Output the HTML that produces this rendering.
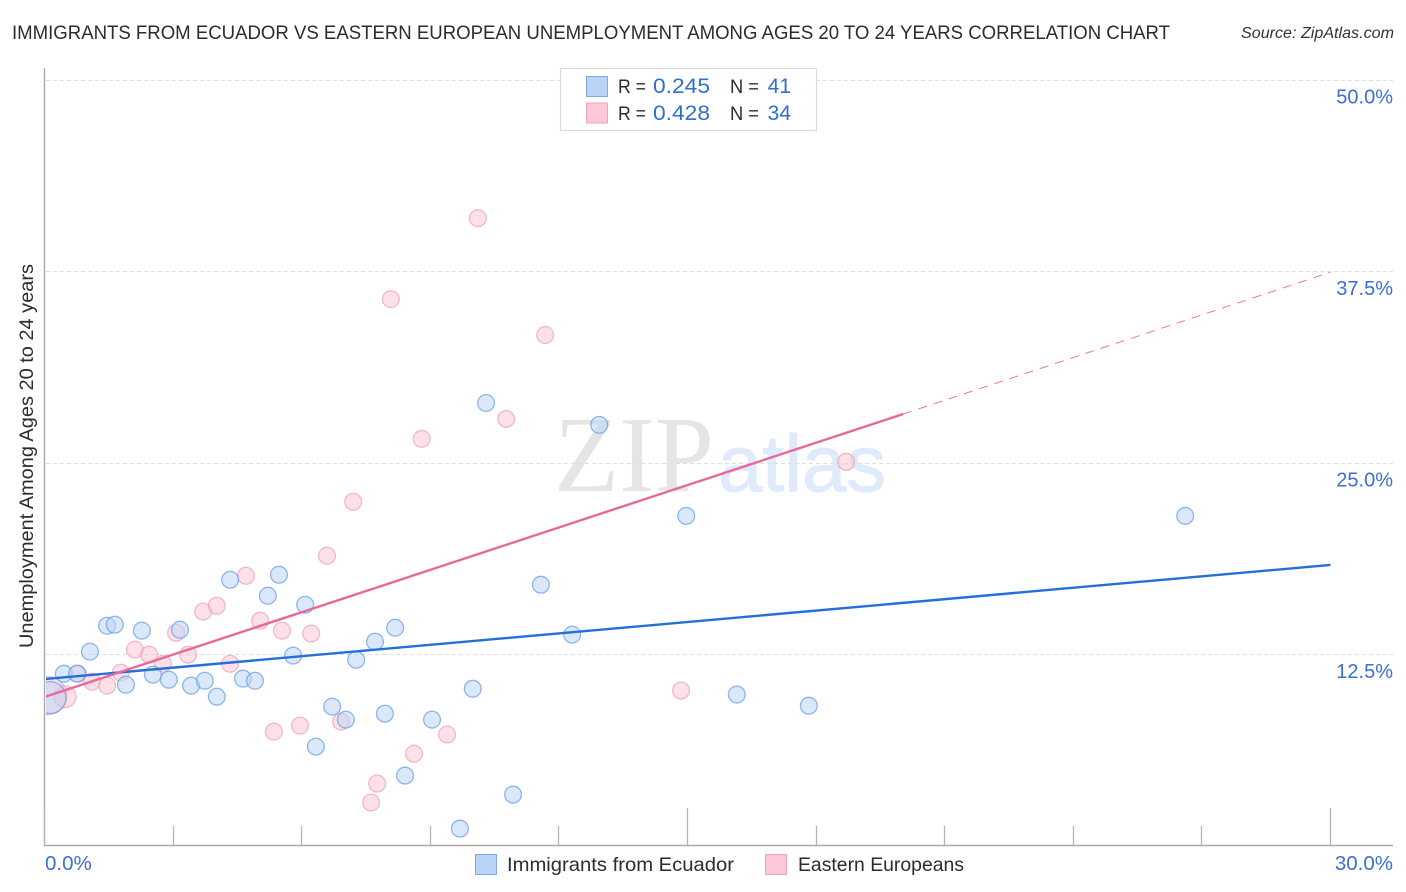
<!DOCTYPE html>
<html lang="en">
<head>
<meta charset="utf-8">
<title>Immigrants from Ecuador vs Eastern European Unemployment Chart</title>
<style>
html,body{margin:0;padding:0;background:#fff;width:1406px;height:892px;overflow:hidden}
svg{display:block}
text{font-family:"Liberation Sans",sans-serif}
</style>
</head>
<body>
<svg id="chart" xmlns="http://www.w3.org/2000/svg" width="1406" height="892" viewBox="0 0 1406 892">
  <defs><clipPath id="plot-clip"><rect x="46" y="60" width="1350" height="785"/></clipPath></defs>
  <text x="12" y="39" font-size="19.5" fill="#2b2b33" textLength="1158" lengthAdjust="spacingAndGlyphs">IMMIGRANTS FROM ECUADOR VS EASTERN EUROPEAN UNEMPLOYMENT AMONG AGES 20 TO 24 YEARS CORRELATION CHART</text>
  <text x="1394" y="38" font-size="15.5" font-style="italic" fill="#333" text-anchor="end" textLength="153" lengthAdjust="spacingAndGlyphs">Source: ZipAtlas.com</text>
  <g>
    <text x="554" y="491" font-size="108" fill="#e5e5e5" style="font-family:'Liberation Serif',serif" textLength="160" lengthAdjust="spacingAndGlyphs">ZIP</text>
    <text x="718" y="491" font-size="80" fill="#dfeafa" stroke="#dfeafa" stroke-width="1" style="font-family:'Liberation Sans',Arial,sans-serif" textLength="168" lengthAdjust="spacingAndGlyphs">atlas</text>
  </g>
  <g id="grid"></g>
  <g id="axes"></g>
  <g id="points" clip-path="url(#plot-clip)"></g>
  <g id="trends" clip-path="url(#plot-clip)"></g>
  <text transform="translate(33,456) rotate(-90)" font-size="19" fill="#2b2b33" text-anchor="middle" textLength="384" lengthAdjust="spacingAndGlyphs">Unemployment Among Ages 20 to 24 years</text>

  <g>
    <rect x="560.5" y="68.5" width="256" height="62" fill="#fff" stroke="#dcdcdc" stroke-width="1.2"/>
    <rect x="586.5" y="76.5" width="21" height="20" fill="#b9d4f7" stroke="#7fabe3"/>
    <text x="618" y="93" font-size="19.5" fill="#2b2b33" textLength="28" lengthAdjust="spacingAndGlyphs">R =</text>
    <text x="653" y="93" font-size="21" fill="#2f6fd0" textLength="57" lengthAdjust="spacingAndGlyphs">0.245</text>
    <text x="730" y="93" font-size="19.5" fill="#2b2b33" textLength="29" lengthAdjust="spacingAndGlyphs">N =</text>
    <text x="791" y="93" font-size="21" fill="#2f6fd0" text-anchor="end">41</text>
    <rect x="586.5" y="103" width="21" height="20" fill="#fcc8d8" stroke="#eda3b9"/>
    <text x="618" y="120" font-size="19.5" fill="#2b2b33" textLength="28" lengthAdjust="spacingAndGlyphs">R =</text>
    <text x="653" y="120" font-size="21" fill="#2f6fd0" textLength="57" lengthAdjust="spacingAndGlyphs">0.428</text>
    <text x="730" y="120" font-size="19.5" fill="#2b2b33" textLength="29" lengthAdjust="spacingAndGlyphs">N =</text>
    <text x="791" y="120" font-size="21" fill="#2f6fd0" text-anchor="end">34</text>
  </g>

  <g>
    <rect x="475.5" y="854.5" width="21" height="20" fill="#b9d4f7" stroke="#7fabe3"/>
    <text x="507" y="871" font-size="19.5" fill="#2b2b33" textLength="227" lengthAdjust="spacingAndGlyphs">Immigrants from Ecuador</text>
  </g>
  <g>
    <rect x="765.5" y="854.5" width="21" height="20" fill="#fcc8d8" stroke="#eda3b9"/>
    <text x="798" y="871" font-size="19.5" fill="#2b2b33" textLength="166" lengthAdjust="spacingAndGlyphs">Eastern Europeans</text>
  </g>
</svg>
<script>
var yTickValues = [12.5, 25, 37.5, 50];
var yTickLabels = ["12.5%", "25.0%", "37.5%", "50.0%"];
var xTickValues = [0, 3, 6, 9, 12, 15, 18, 21, 24, 27, 30];
var xMajorTicks = [0, 15, 30];
var xEndLabels = ["0.0%", "30.0%"];

var ecuadorX = [0.13,0.45,0.76,1.06,1.46,1.64,1.90,2.27,2.53,2.90,3.16,3.42,3.74,4.02,4.33,4.63,4.91,5.21,5.47,5.80,6.08,6.33,6.71,7.03,7.27,7.71,7.94,8.18,8.41,9.04,9.69,9.99,10.30,10.93,11.58,12.31,12.94,14.97,16.15,17.83,26.61];
var ecuadorY = [9.70,11.26,11.26,12.70,14.39,14.46,10.54,14.07,11.20,10.87,14.13,10.48,10.80,9.76,17.39,10.94,10.80,16.35,17.72,12.44,15.76,6.50,9.11,8.26,12.17,13.35,8.65,14.26,4.61,8.26,1.15,10.28,28.93,3.37,17.07,13.81,27.50,21.56,9.90,9.17,21.56];
var ecuadorWeight = [3.6,1,1,1,1,1,1,1,1,1,1,1,1,1,1,1,1,1,1,1,1,1,1,1,1,1,1,1,1,1,1,1,1,1,1,1,1,1,1,1,1];

var easternX = [0.08,0.48,0.78,1.11,1.46,1.78,2.11,2.44,2.76,3.07,3.35,3.70,4.02,4.33,4.70,5.03,5.35,5.54,5.96,6.22,6.59,6.92,7.20,7.62,7.76,8.08,8.62,8.80,9.39,10.11,10.77,11.68,14.85,18.70];
var easternY = [9.83,9.76,11.26,10.74,10.48,11.33,12.83,12.50,11.91,13.93,12.50,15.31,15.70,11.91,17.65,14.72,7.48,14.07,7.87,13.88,18.96,8.13,22.48,2.85,4.09,35.71,6.04,26.59,7.29,40.99,27.89,33.37,10.16,25.09];
var easternWeight = [5.1,1.7,1,1,1,1,1,1,1,1,1,1,1,1,1,1,1,1,1,1,1,1,1,1,1,1,1,1,1,1,1,1,1,1];

var ecuadorTrendX = [0, 30];
var ecuadorTrendY = [10.91, 18.36];
var easternTrendX = [0, 20.03];
var easternTrendY = [9.74, 28.21];
var easternForecastX = [20.03, 30];
var easternForecastY = [28.21, 37.47];

var SVGNS = "http://www.w3.org/2000/svg";
function xScale(v) { return 44.5 + v * 42.867; }
function yScale(v) { return 846.2 - v * 15.32; }
function mk(tag, parent, attrs) {
  var el = document.createElementNS(SVGNS, tag);
  for (var k in attrs) el.setAttribute(k, attrs[k]);
  parent.appendChild(el);
  return el;
}

var gridG = document.getElementById("grid");
var axesG = document.getElementById("axes");
var trendsG = document.getElementById("trends");
var pointsG = document.getElementById("points");

yTickValues.forEach(function (v, i) {
  var y = Math.floor(yScale(v)) + 0.5;
  var g = mk("line", gridG, { x1: 46, x2: 1393, y1: y, y2: y, stroke: "#dedede", "stroke-width": 1, "stroke-dasharray": "4 3" });
  
  
  var t = mk("text", axesG, { x: 1393, y: yScale(v) + 23.5, "font-size": 20, fill: "#3b70d0", "text-anchor": "end" });
  
  
  t.textContent = yTickLabels[i];
});

var yAxis = mk("line", axesG, { x1: 44.5, x2: 44.5, y1: 68, y2: 846, stroke: "#aaaaaa", "stroke-width": 1.4 });


var xAxis = mk("line", axesG, { x1: 44, x2: 1393, y1: 845.5, y2: 845.5, stroke: "#aaaaaa", "stroke-width": 1.4 });



xTickValues.forEach(function (v) {
  var top = xMajorTicks.indexOf(v) >= 0 ? 808 : 826;
  var x = Math.floor(xScale(v)) + 0.5;
  var tick = mk("line", axesG, { x1: x, x2: x, y1: top, y2: 845, stroke: "#b5b5b5", "stroke-width": 1.3 });
  
  
});

var xl0 = mk("text", axesG, { x: 45, y: 870, "font-size": 20.5, fill: "#3b70d0" });


xl0.textContent = xEndLabels[0];
var xl1 = mk("text", axesG, { x: 1393, y: 870, "font-size": 20.5, fill: "#3b70d0", "text-anchor": "end" });


xl1.textContent = xEndLabels[1];

function drawPoints(xs, ys, ws, fill, stroke) {
  xs.forEach(function (v, i) {
    var c = mk("circle", pointsG, { cx: xScale(v), cy: yScale(ys[i]), r: 8.4 * Math.sqrt(ws[i]), fill: fill, "fill-opacity": 0.55, stroke: stroke, "stroke-opacity": 0.7, "stroke-width": 1.3 });
    
    
  });
}
drawPoints(easternX, easternY, easternWeight, "#fbc6d6", "#eb9fb6");
drawPoints(ecuadorX, ecuadorY, ecuadorWeight, "#bdd6f6", "#5f9be6");

var forecast = mk("line", trendsG, { x1: xScale(easternForecastX[0]), y1: yScale(easternForecastY[0]), x2: xScale(easternForecastX[1]), y2: yScale(easternForecastY[1]), stroke: "#e8799f", "stroke-width": 1, "stroke-dasharray": "9 7" });


var trendB = mk("line", trendsG, { x1: xScale(ecuadorTrendX[0]), y1: yScale(ecuadorTrendY[0]), x2: xScale(ecuadorTrendX[1]), y2: yScale(ecuadorTrendY[1]), stroke: "#2270d8", "stroke-width": 2.4 });


var trendP = mk("line", trendsG, { x1: xScale(easternTrendX[0]), y1: yScale(easternTrendY[0]), x2: xScale(easternTrendX[1]), y2: yScale(easternTrendY[1]), stroke: "#e8689a", "stroke-width": 2.4 });


</script>
</body>
</html>
